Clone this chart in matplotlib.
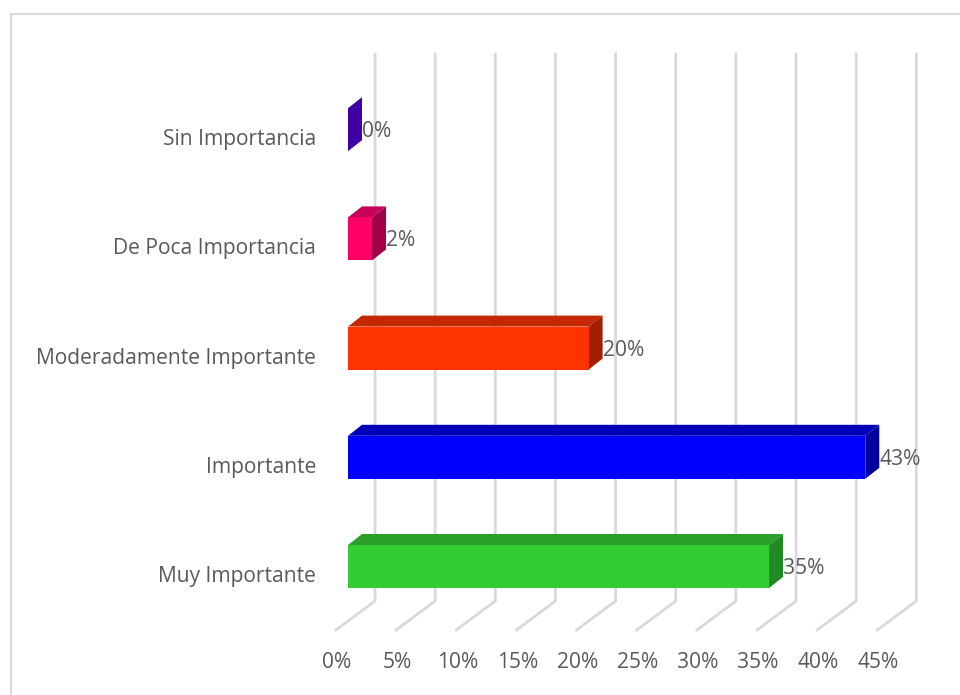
import matplotlib
matplotlib.use("Agg")
import matplotlib.pyplot as plt
from matplotlib.patches import Polygon, Rectangle

categories = ["Muy Importante", "Importante", "Moderadamente Importante",
              "De Poca Importancia", "Sin Importancia"]
values = [35, 43, 20, 2, 0]
tick_values = [0, 5, 10, 15, 20, 25, 30, 35, 40, 45]
tick_labels = ["0%", "5%", "10%", "15%", "20%", "25%", "30%", "35%", "40%", "45%"]

front_colors = ["#33CC33", "#0000FF", "#FF3300", "#FF0066", "#4000A8"]
top_colors = ["#2A9F2A", "#0000B8", "#C42800", "#C8005A", "#3A0098"]
side_colors = ["#228A22", "#00009C", "#A02000", "#A0004A", "#4000A8"]

W, H, DPI = 960, 695, 100
fig = plt.figure(figsize=(W / DPI, H / DPI), dpi=DPI)
ax = fig.add_axes([0, 0, 1, 1])

# pixel mapping constants (style)
X0_PX = 348.0          # pixel x of 0% on bar front plane
PX_PER_PCT = 12.03
Y0_PX = 566.5          # pixel y of first category center
PX_PER_CAT = 109.2

xmin = (0 - X0_PX) / PX_PER_PCT
xmax = (W - X0_PX) / PX_PER_PCT
ymin = (Y0_PX - H) / PX_PER_CAT
ymax = Y0_PX / PX_PER_CAT
ax.set_xlim(xmin, xmax)
ax.set_ylim(ymin, ymax)
ax.axis("off")

def dx(px):
    return px / PX_PER_PCT

def dy(px):
    return px / PX_PER_CAT

def ypx(py):
    return (Y0_PX - py) / PX_PER_CAT

text_color = "#595959"
grid_color = "#D9D9D9"
font = ["Open Sans", "DejaVu Sans"]
FS = 15.1

# chart border
ax.add_patch(Rectangle((dx(11 - X0_PX), ypx(H + 20)), dx(W + 40), dy(H + 6),
                       fill=False, edgecolor="#D9D9D9", linewidth=1.5, zorder=0))

# gridlines: back wall verticals then floor diagonals
wall_off = dx(27)
floor_off = dx(-12)
for t in tick_values:
    ax.plot([t + wall_off, t + wall_off, t + floor_off],
            [ypx(54), ypx(601), ypx(630)],
            color=grid_color, linewidth=2.0, zorder=1, solid_joinstyle="miter")

# tick labels
for t, lab in zip(tick_values, tick_labels):
    ax.text(t + floor_off + dx(1), ypx(662), lab, ha="center", va="center",
            fontsize=FS, color=text_color, family=font)

# bars with 3D faces
h = dy(43)
ddx = dx(14)
ddy = dy(11)
for i, (v, fc, tc, sc) in enumerate(zip(values, front_colors, top_colors, side_colors)):
    y0 = i - h / 2
    y1 = i + h / 2
    if v > 0:
        ax.add_patch(Polygon([(0, y1), (v, y1), (v + ddx, y1 + ddy), (ddx, y1 + ddy)],
                             closed=True, facecolor=tc, edgecolor="none", zorder=3))
        ax.add_patch(Rectangle((0, y0), v, h, facecolor=fc, edgecolor="none", zorder=4))
    ax.add_patch(Polygon([(v, y0), (v + ddx, y0 + ddy), (v + ddx, y1 + ddy), (v, y1)],
                         closed=True, facecolor=sc, edgecolor="none", zorder=3))
    ax.text(v + ddx + dx(0), i - dy(2), f"{v}%", ha="left", va="center",
            fontsize=FS, color=text_color, family=font, zorder=5)

# category labels
for i, c in enumerate(categories):
    ax.text(dx(316 - X0_PX), i - dy(10), c, ha="right", va="center",
            fontsize=FS, color=text_color, family=font)

fig.savefig("out.png", dpi=DPI)
